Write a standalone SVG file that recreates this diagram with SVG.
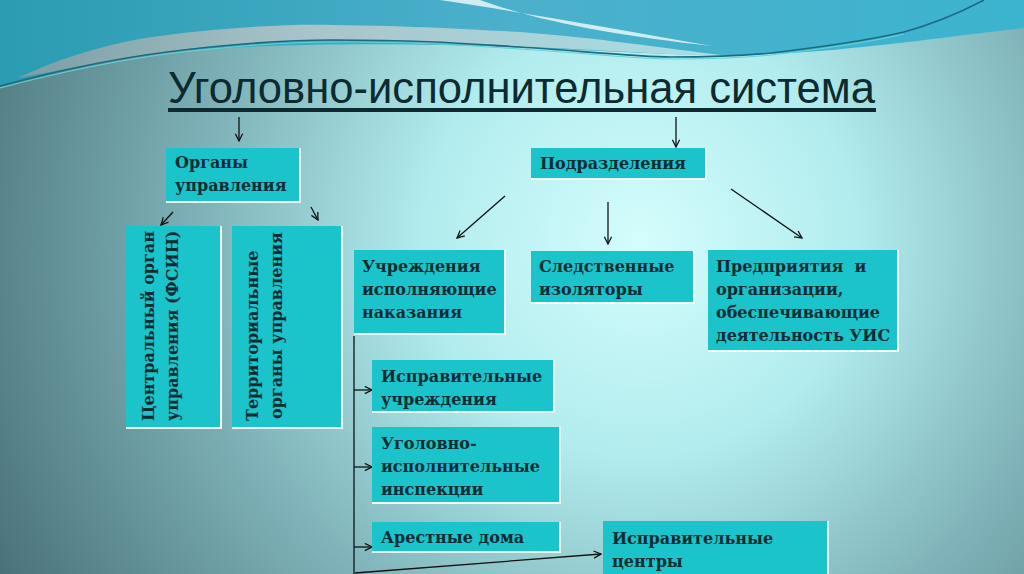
<svg xmlns="http://www.w3.org/2000/svg" width="1024" height="574" viewBox="0 0 1024 574">
<defs>
<radialGradient id="bg" gradientUnits="userSpaceOnUse" cx="640" cy="240" r="720">
<stop offset="0" stop-color="#d4fdfd"/>
<stop offset="0.3" stop-color="#b2ecee"/>
<stop offset="0.6" stop-color="#80b4ba"/>
<stop offset="1" stop-color="#4a727a"/>
</radialGradient>
<linearGradient id="blue" x1="0" y1="0" x2="1" y2="0">
<stop offset="0" stop-color="#2a9cb2"/>
<stop offset="0.5" stop-color="#4cb0cc"/>
<stop offset="1" stop-color="#3cb4cf"/>
</linearGradient>
<linearGradient id="swoosh" x1="0" y1="0" x2="1" y2="0">
<stop offset="0" stop-color="#7a9ea4"/>
<stop offset="0.4" stop-color="#a8c4ca"/>
<stop offset="1" stop-color="#a8e0e6"/>
</linearGradient>
<marker id="ah" viewBox="0 0 10 10" refX="9" refY="5" markerWidth="9" markerHeight="9" markerUnits="userSpaceOnUse" orient="auto">
<path d="M1,1 L9,5 L1,9" fill="none" stroke="#111" stroke-width="1.4"/>
</marker>
<style>
.box{fill:#1bc3cb}
.sh{fill:#f2ffff}
.t{font-family:"DejaVu Serif","Liberation Serif",serif;font-weight:bold;font-size:16px;fill:#0b2c32}
.c{stroke:#111;stroke-width:1.3;fill:none}
.a{marker-end:url(#ah)}
</style>
</defs>
<rect width="1024" height="574" fill="url(#bg)"/>
<path d="M0,0 H1024 V28 C950,36 860,50 770,54 C700,58 600,50 500,47 C400,42 250,44 167,52 C100,60 40,75 0,86 Z" fill="url(#blue)"/>
<path d="M18,78 C60,58 110,42 167,35 C230,27 290,24 333,25 C420,26 480,30 520,32 C600,38 660,48 730,56 C640,54 580,48 520,47 C430,42 350,40 333,40 C260,42 200,46 167,52 C110,60 60,70 18,78 Z" fill="url(#swoosh)"/>
<path d="M440,0 C520,12 610,28 712,46 C620,36 540,22 480,0 Z" fill="#e8f8fa" opacity="0.85"/>
<path d="M0,86 C60,70 120,58 167,52 C230,44 290,40 333,40 C430,40 470,44 520,47 C580,51 640,57 671,57 C720,57 750,55 771,53 C830,46 870,40 904,32 C940,22 965,10 984,0" fill="none" stroke="#1d6a82" stroke-width="1.6"/>
<path d="M0,88 C60,72 120,60 167,54 C230,46 290,42 333,42 C430,42 470,46 520,49 C580,53 640,59 671,59 C720,59 750,57 771,55 C830,48 870,42 904,34" fill="none" stroke="#5fd6d6" stroke-width="1"/>

<g id="title">
<text x="168" y="103" font-family="Liberation Sans, Arial, sans-serif" font-size="44" fill="#0d2a30" textLength="707" lengthAdjust="spacingAndGlyphs">Уголовно-исполнительная система</text>
<rect x="168" y="108" width="708" height="4" fill="#0d2a30"/>
</g>

<g id="connectors">
<line class="c a" x1="239" y1="117" x2="239" y2="141"/>
<line class="c a" x1="676" y1="117" x2="676" y2="147"/>
<line class="c a" x1="173" y1="212" x2="161" y2="225"/>
<line class="c a" x1="311" y1="207" x2="318" y2="220"/>
<line class="c a" x1="505" y1="196" x2="457" y2="238"/>
<line class="c a" x1="608" y1="202" x2="608" y2="244"/>
<line class="c a" x1="731" y1="189" x2="802" y2="238"/>
<line class="c" x1="354" y1="336" x2="354" y2="574"/>
<line class="c a" x1="354" y1="390" x2="372" y2="390"/>
<line class="c a" x1="354" y1="467" x2="372" y2="467"/>
<line class="c a" x1="354" y1="547" x2="372" y2="547"/>
<line class="c a" x1="355" y1="573" x2="601" y2="554"/>
</g>

<g id="organy">
<rect class="sh" x="166" y="148" width="135" height="55"/>
<rect class="box" x="166" y="148" width="133" height="53"/>
<text class="t" x="175" y="168">Органы</text>
<text class="t" x="175" y="191">управления</text>
</g>

<g id="podrazdeleniya">
<rect class="sh" x="531" y="148" width="176" height="32"/>
<rect class="box" x="531" y="148" width="174" height="30"/>
<text class="t" x="540" y="169">Подразделения</text>
</g>

<g id="centralny">
<rect class="sh" x="126" y="226" width="96" height="203"/>
<rect class="box" x="126" y="226" width="94" height="201"/>
<text class="t" transform="translate(154,421) rotate(-90)">Центральный орган</text>
<text class="t" transform="translate(178,421) rotate(-90)">управления (ФСИН)</text>
</g>

<g id="territorialnye">
<rect class="sh" x="232" y="226" width="111" height="203"/>
<rect class="box" x="232" y="226" width="109" height="201"/>
<text class="t" transform="translate(258,421) rotate(-90)">Территориальные</text>
<text class="t" transform="translate(282,419) rotate(-90)">органы управления</text>
</g>

<g id="uchrezhdeniya">
<rect class="sh" x="354" y="250" width="152" height="85"/>
<rect class="box" x="354" y="250" width="150" height="83"/>
<text class="t" x="362" y="272">Учреждения</text>
<text class="t" x="362" y="295">исполняющие</text>
<text class="t" x="362" y="318">наказания</text>
</g>

<g id="sledstvennye">
<rect class="sh" x="531" y="251" width="164" height="53"/>
<rect class="box" x="531" y="251" width="162" height="51"/>
<text class="t" x="539" y="272">Следственные</text>
<text class="t" x="539" y="295">изоляторы</text>
</g>

<g id="predpriyatiya">
<rect class="sh" x="708" y="250" width="191" height="102"/>
<rect class="box" x="708" y="250" width="189" height="100"/>
<text class="t" x="716" y="272" xml:space="preserve">Предприятия  и</text>
<text class="t" x="716" y="295">организации,</text>
<text class="t" x="716" y="318">обеспечивающие</text>
<text class="t" x="716" y="341">деятельность УИС</text>
</g>

<g id="ispr-uchrezhdeniya">
<rect class="sh" x="372" y="360" width="183" height="53"/>
<rect class="box" x="372" y="360" width="181" height="51"/>
<text class="t" x="381" y="382">Исправительные</text>
<text class="t" x="381" y="405">учреждения</text>
</g>

<g id="uii">
<rect class="sh" x="372" y="427" width="189" height="77"/>
<rect class="box" x="372" y="427" width="187" height="75"/>
<text class="t" x="381" y="449">Уголовно-</text>
<text class="t" x="381" y="472">исполнительные</text>
<text class="t" x="381" y="495">инспекции</text>
</g>

<g id="arestnye">
<rect class="sh" x="372" y="522" width="189" height="31"/>
<rect class="box" x="372" y="522" width="187" height="29"/>
<text class="t" x="381" y="543">Арестные дома</text>
</g>

<g id="ispr-centry">
<rect class="sh" x="603" y="521" width="226" height="60"/>
<rect class="box" x="603" y="521" width="224" height="60"/>
<text class="t" x="612" y="544">Исправительные</text>
<text class="t" x="612" y="567">центры</text>
</g>
</svg>
